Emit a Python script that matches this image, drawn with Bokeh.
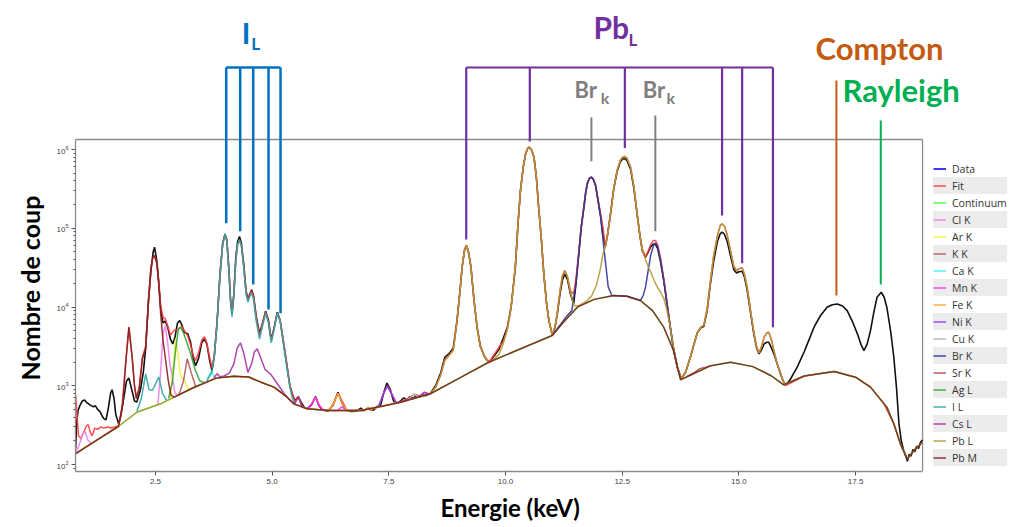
from bokeh.plotting import figure
from bokeh.models import (Range1d, FixedTicker, LogTickFormatter, NumeralTickFormatter,
                          Legend, LegendItem, Label, Title)
from bokeh.embed import file_html
from bokeh.resources import INLINE

NAN = float("nan")

# ---------------- data (energy keV, counts) ----------------
DATA = [(0.79,160),(0.81,330),(0.84,480),(0.88,560),(0.93,640),(0.98,660),(1.03,610),(1.08,580),
        (1.12,560),(1.17,540),(1.21,560),(1.26,500),(1.31,470),(1.36,410),(1.40,380),(1.44,370),
        (1.49,520),(1.54,820),(1.57,890),(1.61,700),(1.65,430),(1.71,330),(1.76,420),(1.82,700),
        (1.88,1150),(1.93,1250),(1.99,900),(2.05,640),(2.10,620),(2.18,900),(2.24,1500),(2.29,3000),
        (2.35,12000),(2.40,28000),(2.45,50000),(2.48,57400),(2.53,38000),(2.57,20000),(2.61,9800),
        (2.66,6300),(2.71,6600),(2.76,5600),(2.82,3900),(2.87,3400),(2.92,4200),(2.97,6200),
        (3.02,6740),(3.07,5800),(3.12,4700),(3.19,4600),(3.25,3600),(3.31,2200),(3.36,1800),
        (3.42,2200),(3.49,3500),(3.55,3940),(3.60,3400),(3.66,2100),(3.71,1560),(3.76,2400),
        (3.82,6500),(3.88,25000),(3.94,65000),(3.99,84900),(4.03,70000),(4.07,32000),(4.11,12000),
        (4.14,8200),(4.18,15000),(4.22,42000),(4.26,68000),(4.30,78500),(4.34,65000),(4.39,35000),
        (4.44,16000),(4.48,12700),(4.52,14500),(4.56,16500),(4.60,14000),(4.66,7500),(4.73,4570),
        (4.80,6500),(4.86,8860),(4.92,6800),(4.98,3830),(5.04,5400),(5.11,8590),(5.17,6800),
        (5.24,3600),(5.32,1720),(5.38,1000),(5.43,790),(5.49,640),(5.56,730),(5.62,620),(5.69,530),
        (5.76,510),(5.85,580),(5.93,730),(6.00,560),(6.08,490),(6.20,480),(6.30,560),(6.41,828),
        (6.50,600),(6.58,490),(6.70,470),(6.80,475),(6.90,520),(6.96,480),(7.03,510),(7.10,500),
        (7.17,490),(7.25,545),(7.32,560),(7.40,850),(7.46,1080),(7.53,900),(7.60,640),(7.67,600),
        (7.75,640),(7.82,700),(7.88,660),(7.95,730),(8.02,690),(8.10,760),(8.16,720),(8.24,760),
        (8.30,750),(8.39,800),(8.50,1000),(8.61,1450),(8.70,2300),(8.80,2600),(8.88,3000),
        (8.96,6730),(9.02,15000),(9.07,32000),(9.12,52000),(9.16,60300),(9.20,52000),(9.26,32000),
        (9.32,13000),(9.39,5540),(9.46,3200),(9.54,2400),(9.60,2100),(9.66,2000),(9.76,2400),
        (9.86,2900),(9.95,4000),(10.04,5540),(10.12,10000),(10.21,32000),(10.27,120000),
        (10.32,301000),(10.38,600000),(10.43,880000),(10.47,1020000),(10.51,1070000),
        (10.56,980000),(10.61,800000),(10.66,450000),(10.71,185000),(10.77,70000),(10.82,26300),
        (10.88,11000),(10.93,6730),(11.00,4420),(11.06,5500),(11.11,8170),(11.17,15000),
        (11.22,22000),(11.27,26300),(11.33,22000),(11.39,14700),(11.46,10900),(11.51,20000),
        (11.57,47200),(11.62,100000),(11.68,185000),(11.72,290000),(11.76,384000),(11.80,430000),
        (11.84,445000),(11.88,420000),(11.93,349000),(11.98,230000),(12.04,138000),(12.09,80000),
        (12.14,60000),(12.19,85000),(12.25,152000),(12.32,320000),(12.39,520000),(12.46,700000),
        (12.51,760000),(12.55,770000),(12.60,730000),(12.68,560000),(12.75,320000),(12.82,150000),
        (12.88,80000),(12.93,52000),(13.00,43000),(13.06,50000),(13.11,58000),(13.17,63000),
        (13.21,63000),(13.26,55000),(13.32,38000),(13.39,22000),(13.46,11000),(13.53,5540),
        (13.60,3000),(13.68,1720),(13.77,1222),(13.86,1500),(13.96,2300),(14.04,3400),(14.11,4700),
        (14.18,5400),(14.25,5700),(14.32,9000),(14.39,19700),(14.46,38000),(14.54,68000),
        (14.60,85000),(14.64,89400),(14.69,84000),(14.75,68000),(14.82,45000),(14.89,30000),
        (14.95,27000),(15.00,28000),(15.07,28500),(15.12,24000),(15.18,16000),(15.25,8500),
        (15.32,4560),(15.38,3000),(15.43,2540),(15.49,2900),(15.54,3400),(15.60,3570),(15.64,3570),
        (15.70,3000),(15.75,2540),(15.82,1900),(15.89,1416),(15.95,1150),(16.00,1007),(16.10,1200),
        (16.25,1720),(16.40,2700),(16.50,3800),(16.61,5540),(16.75,7800),(16.89,9930),(17.00,10700),
        (17.11,10940),(17.22,10300),(17.32,9000),(17.43,6600),(17.54,4560),(17.62,3300),(17.68,2800),
        (17.75,3400),(17.82,5020),(17.89,8500),(17.96,13300),(18.05,15400),(18.11,13500),
        (18.17,9930),(18.25,5000),(18.32,2300),(18.38,900),(18.43,328),(18.48,200),(18.53,151),
        (18.58,125),(18.61,110),(18.65,135),(18.69,128),(18.73,155),(18.77,145),(18.81,170),
        (18.85,160),(18.89,190),(18.93,205)]

FIT = [(0.79,750),(0.82,420),(0.85,230),(0.90,215),(0.96,255),(1.02,310),(1.06,320),(1.10,260),
       (1.14,230),(1.20,290),(1.26,280),(1.33,300),(1.40,290),(1.47,300),(1.55,290),(1.63,300),
       (1.71,310),(1.78,520),(1.86,1900),(1.93,5540),(2.00,2300),(2.05,1000),(2.09,720),(2.15,950),
       (2.22,2300),(2.29,3200),(2.35,12000),(2.40,30000),(2.44,42000),(2.48,45000),(2.53,36000),
       (2.57,21000),(2.61,10500),(2.66,7500),(2.71,7080),(2.76,5800),(2.82,4400),(2.87,4800),
       (2.92,5200),(2.97,5100),(3.02,5500),(3.07,5600),(3.12,5000),(3.19,4300),(3.25,3300),
       (3.31,2400),(3.36,2100),(3.42,2600),(3.49,3800),(3.55,4200),(3.60,3500),(3.66,2300),
       (3.71,1700),(3.76,2400),(3.82,6400),(3.88,24500),(3.94,64000),(3.99,83000),(4.03,69000),
       (4.07,31000),(4.11,11500),(4.14,8400),(4.18,14500),(4.22,39000),(4.26,63000),(4.30,70000),
       (4.34,60000),(4.39,33000),(4.44,15500),(4.48,12300),(4.52,14200),(4.56,16000),(4.60,13500),
       (4.66,7200),(4.73,4300),(4.80,6300),(4.86,8600),(4.92,6600),(4.98,3700),(5.04,5300),
       (5.11,8300),(5.17,6700),(5.24,3800),(5.32,1800),(5.38,1000),(5.43,800),(5.49,620),
       (5.56,730),(5.63,570),(5.70,520),(5.76,515),(5.85,590),(5.93,720),(6.01,560),(6.10,490),
       (6.22,490),(6.32,600),(6.41,800),(6.50,640),(6.60,490),(6.90,485),(6.98,490),(7.06,530),
       (7.14,500),(7.28,545),(7.38,790),(7.47,1000),(7.55,820),(7.66,610),(7.80,640),(7.92,690),
       (8.04,780),(8.14,730),(8.26,830),(8.33,800),(8.39,800),(8.50,960),(8.61,1380),(8.70,2150),
       (8.80,2500),(8.88,2850),(8.96,6500),(9.02,15000),(9.07,32000),(9.12,52000),(9.16,60300),
       (9.20,52000),(9.26,32000),(9.32,13000),(9.39,5540),(9.46,3150),(9.54,2420),(9.60,2150),
       (9.66,2050),(9.76,2500),(9.86,3100),(9.95,3600),(10.04,5300),(10.12,10000),(10.21,32000),
       (10.27,120000),(10.32,301000),(10.38,600000),(10.43,880000),(10.47,1020000),
       (10.51,1070000),(10.56,980000),(10.61,800000),(10.66,450000),(10.71,185000),(10.77,70000),
       (10.82,26300),(10.88,11000),(10.93,6730),(11.00,4420),(11.06,5600),(11.11,8500),
       (11.17,16500),(11.22,25000),(11.27,29000),(11.33,24000),(11.39,16000),(11.46,14700),
       (11.51,23000),(11.57,50000),(11.62,102000),(11.68,188000),(11.72,292000),(11.76,386000),
       (11.80,432000),(11.84,447000),(11.88,422000),(11.93,352000),(11.98,236000),(12.04,150000),
       (12.09,100000),(12.14,58500),(12.19,87000),(12.25,154000),(12.32,322000),(12.39,542000),
       (12.46,731000),(12.51,801000),(12.55,815000),(12.60,781000),(12.68,597000),(12.75,342000),
       (12.82,155000),(12.88,82000),(12.93,55000),(13.00,42900),(13.06,52000),(13.11,62000),
       (13.17,70000),(13.21,70000),(13.26,62000),(13.32,42000),(13.39,23000),(13.46,11500),
       (13.53,5600),(13.60,3000),(13.68,1720),(13.77,1222),(13.86,1500),(13.96,2300),(14.04,3400),
       (14.11,4700),(14.18,5500),(14.25,5900),(14.32,9500),(14.39,21000),(14.46,45000),
       (14.54,80000),(14.60,108000),(14.64,114000),(14.69,106000),(14.75,82000),(14.82,52000),
       (14.89,33000),(14.95,29000),(15.00,30500),(15.07,31500),(15.12,26000),(15.18,17500),
       (15.25,9000),(15.32,4800),(15.38,3100),(15.43,2600),(15.49,3200),(15.54,4140),(15.60,4700),
       (15.64,4790),(15.70,3800),(15.75,2800),(15.82,1900),(15.89,1450),(15.95,1150),(16.00,1007),
       (16.40,1330),(17.04,1518),(17.50,1285),(17.82,960),(18.10,600),(18.32,329),(18.50,160),
       (18.61,118),(18.75,150),(18.93,192)]

CONTINUUM = [(0.79,137),(1.20,196),(1.71,306),(2.10,461),(2.61,590),(2.90,716),(3.32,950),
             (3.80,1250),(4.17,1322),(4.50,1290),(4.76,1110),(5.04,960),(5.32,716),(5.46,590),
             (5.75,509),(6.20,485),(6.90,485),(7.30,540),(7.75,618),(8.39,791),(9.00,1240),
             (9.64,1990),(10.30,2910),(11.00,4345),(11.25,6500),(11.54,9950),(11.90,12500),
             (12.32,14000),(12.60,13700),(12.89,12100),(13.15,9000),(13.39,5540),(13.60,2800),
             (13.75,1190),(14.00,1400),(14.40,1800),(14.82,1990),(15.30,1750),(15.70,1330),
             (15.96,1028),(16.40,1330),(17.04,1518),(17.50,1285),(17.82,960),(18.17,535),
             (18.32,329),(18.46,183),(18.61,118),(18.75,150),(18.93,192)]

CL_K = [(0.79,137),(0.86,175),(0.95,250),(0.99,262),(1.05,205),(1.12,185),(1.20,NAN),
        (2.55,570),(2.61,1500),(2.66,4500),(2.71,5800),(2.76,3500),(2.81,1900),(2.86,1300),
        (2.92,800),(3.00,760)]
AR_K = [(2.82,700),(2.88,1800),(2.93,3940),(2.98,2600),(3.03,1400),(3.07,1230),(3.13,1150),
        (3.20,900),(3.28,930)]
K_K = [(3.00,760),(3.10,1150),(3.18,2200),(3.26,1500),(3.36,980)]
CA_K = [(3.60,1180),(3.69,1500),(3.78,1260)]
MN_K = [(5.76,509),(5.85,590),(5.93,720),(6.01,560),(6.10,490),(6.40,485),(6.49,540),(6.58,490)]
FE_K = [(6.22,485),(6.32,600),(6.41,800),(6.50,600),(6.60,485),(6.98,490),(7.06,530),(7.14,495)]
NI_K = [(7.28,540),(7.38,780),(7.47,980),(7.55,800),(7.66,600),(8.18,740),(8.26,820),(8.33,790),
        (8.40,791)]
CU_K = [(7.92,680),(8.04,780),(8.14,725)]
BR_K = [(11.00,4345),(11.30,7500),(11.42,9000),(11.51,20000),(11.57,47200),(11.62,100000),
        (11.68,185000),(11.72,290000),(11.76,384000),(11.80,430000),(11.84,445000),
        (11.88,420000),(11.93,349000),(11.98,230000),(12.04,138000),(12.09,70000),(12.14,38000),
        (12.20,18000),(12.28,14000),(12.60,13700),(12.89,12100),(12.95,14000),(13.00,18000),
        (13.06,30000),(13.11,45000),(13.17,60000),(13.21,65000),(13.26,58000),(13.32,40000),
        (13.39,22000),(13.46,11000),(13.53,5540),(13.60,2800),(13.68,1720),(13.77,1222)]
SR_K = [(13.90,1320),(14.05,1480),(14.16,1650),(14.26,1700),(14.40,1800)]
AG_L = [(2.78,690),(2.86,1100),(2.93,2800),(2.99,5200),(3.04,5500),(3.10,4700),(3.16,3700),
        (3.25,2570),(3.35,1600),(3.45,1150),(3.55,1100)]
I_L = [(2.10,470),(2.20,700),(2.29,1420),(2.36,900),(2.43,870),(2.50,1050),(2.57,1285),
       (2.65,800),(2.74,650),(2.80,NAN),
       (3.60,1150),(3.71,1500),(3.76,2300),(3.82,6300),(3.88,24000),(3.94,63000),(3.99,84000),
       (4.03,68000),(4.07,30000),(4.11,11000),(4.14,7500),(4.18,14000),(4.22,38000),(4.26,62000),
       (4.30,72000),(4.34,60000),(4.39,32000),(4.44,14500),(4.48,11500),(4.52,13500),(4.56,15000),
       (4.60,12500),(4.66,6500),(4.73,3900),(4.80,6000),(4.86,8300),(4.92,6200),(4.98,3500),
       (5.04,5100),(5.11,8400),(5.17,6600),(5.24,3500),(5.32,1650),(5.38,950),(5.43,700),
       (5.50,580)]
CS_L = [(3.75,1260),(3.82,1420),(3.88,1300),(3.97,1330),(4.08,1450),(4.18,1900),(4.25,3000),
        (4.32,3510),(4.39,2600),(4.48,1480),(4.56,1900),(4.62,2700),(4.68,2940),(4.75,2300),
        (4.85,1600),(4.96,1420),(5.05,1200),(5.14,1000),(5.24,820),(5.32,716),(5.40,640),
        (5.49,600),(5.56,720),(5.63,560),(5.70,520)]
PB_L = [(0.79,137),(1.20,196),(1.71,306),(2.10,461),(2.61,590),(2.90,716),(3.32,950),(3.80,1250),
        (4.17,1322),(4.50,1290),(4.76,1110),(5.04,960),(5.32,716),(5.46,590),(5.75,509),
        (6.20,485),(6.90,485),(7.30,540),(7.75,618),
        (8.39,791),(8.50,950),(8.61,1350),(8.70,2100),(8.80,2450),(8.88,2800),(8.96,6500),
        (9.02,15000),(9.07,32000),(9.12,52000),(9.16,60300),(9.20,52000),(9.26,32000),
        (9.32,13000),(9.39,5540),(9.46,3100),(9.54,2400),(9.60,2100),(9.66,1990),(9.76,2200),
        (9.86,2500),(9.95,3400),(10.04,5200),(10.12,10000),(10.21,32000),(10.27,120000),
        (10.32,301000),(10.38,600000),(10.43,880000),(10.47,1020000),(10.51,1070000),
        (10.56,980000),(10.61,800000),(10.66,450000),(10.71,185000),(10.77,70000),(10.82,26300),
        (10.88,11000),(10.93,6730),(11.00,4420),(11.06,5600),(11.11,8500),(11.17,16500),
        (11.22,25000),(11.27,29000),(11.33,24000),(11.39,15500),(11.46,10500),(11.55,10300),
        (11.65,11000),(11.75,12000),(11.85,14000),(11.95,19000),(12.04,32000),(12.09,48000),
        (12.14,58000),(12.19,85000),(12.25,152000),(12.32,320000),(12.39,540000),(12.46,730000),
        (12.51,800000),(12.55,814000),(12.60,780000),(12.68,596000),(12.75,340000),(12.82,152000),
        (12.88,80000),(12.93,52000),(13.00,40000),(13.06,32000),(13.11,28000),(13.18,22000),
        (13.25,18000),(13.32,15500),(13.39,13000),(13.46,9000),(13.53,5540),(13.60,3000),
        (13.68,1720),(13.77,1222),(13.86,1500),(13.96,2300),(14.04,3400),(14.11,4700),(14.18,5500),
        (14.25,5900),(14.32,9500),(14.39,21000),(14.46,45000),(14.54,80000),(14.60,108000),
        (14.64,114000),(14.69,106000),(14.75,82000),(14.82,52000),(14.89,33000),(14.95,29000),
        (15.00,30500),(15.07,31500),(15.12,26000),(15.18,17500),(15.25,9000),(15.32,4800),
        (15.38,3100),(15.43,2600),(15.49,3200),(15.54,4140),(15.60,4700),(15.64,4790),(15.70,3800),
        (15.75,2800),(15.82,1900),(15.89,1450),(15.95,1150),(16.00,1007)]
PB_M = [(0.79,137),(1.20,196),(1.71,306),(1.80,600),(1.86,1900),(1.93,5540),(2.00,2300),
        (2.05,1000),(2.09,682),(2.15,900),(2.22,2200),(2.29,3000),(2.35,12000),(2.40,30000),
        (2.44,42000),(2.48,45000),(2.53,35600),(2.57,20000),(2.61,8300),(2.66,3800),(2.71,2300),
        (2.77,1200),(2.83,760),(2.90,716),(3.32,950),(3.80,1250),(4.17,1322),(4.50,1290),
        (4.76,1110),(5.04,960),(5.32,716),(5.46,590),(5.75,509),(6.20,485),(6.90,485),(7.30,540),
        (7.75,618),(8.39,791),(9.00,1240),(9.64,1990),(10.30,2910),(11.00,4345),(11.25,6500),
        (11.54,9950),(11.90,12500),(12.32,14000),(12.60,13700),(12.89,12100),(13.15,9000),
        (13.39,5540),(13.60,2800),(13.75,1190),(14.00,1400),(14.40,1800),(14.82,1990),
        (15.30,1750),(15.70,1330),(15.96,1028),(16.40,1330),(17.04,1518),(17.50,1285),
        (17.82,960),(18.17,535),(18.32,329),(18.46,183),(18.61,118),(18.75,150),(18.93,192)]

LEGEND_NAMES = ["Data", "Fit", "Continuum", "Cl K", "Ar K", "K K", "Ca K", "Mn K", "Fe K", "Ni K",
                "Cu K", "Br K", "Sr K", "Ag L", "I L", "Cs L", "Pb L", "Pb M"]
COMPONENTS = [FIT, CONTINUUM, CL_K, AR_K, K_K, CA_K, MN_K, FE_K, NI_K, CU_K, BR_K, SR_K,
              AG_L, I_L, CS_L, PB_L, PB_M]
COLORS = ["#3a3aff", "#ff3b3b", "#3dff3d", "#f080f0", "#f2f23a", "#b35959", "#40f0f0",
          "#ff30ff", "#ffa333", "#8a3dff", "#b3b3b3", "#333399", "#b34d4d", "#33a633",
          "#33a6a6", "#a633a6", "#b09a35", "#862020"]

XTICKS = [2.5, 5.0, 7.5, 10.0, 12.5, 15.0, 17.5]
YTICKS = [1e2, 1e3, 1e4, 1e5, 1e6]

# annotation markers (energy of line, bottom end in counts)
IL_E = [4.015, 4.315, 4.594, 4.922, 5.179]
IL_END = [116000, 91800, 19300, 9290, 8340]
PB_E = [9.158, 10.52, 12.557, 14.64, 15.07, 15.73]
PB_END = [71900, 1260000, 1047000, 145000, 36000, 5530]
BR_E = [11.84, 13.21]
BR_TOP = [2550000, 2700000]
BR_END = [710000, 91800]
COMPTON_E, COMPTON_TOP, COMPTON_END = 17.09, 7.5e6, 14000
RAYLEIGH_E, RAYLEIGH_TOP, RAYLEIGH_END = 18.04, 2.33e6, 19300
BRACKET_Y = 1.10e7

# ---------------- layout ----------------
X0, X1, XEND = 0.786, 18.936, 20.82
YMIN, YFRAME, YTOP = 81.5, 1.34e6, 7.8e7

p = figure(width=1010, height=527, x_range=Range1d(X0, XEND), y_range=Range1d(YMIN, YTOP),
           y_axis_type="log", output_backend="svg", toolbar_location=None, title=None,
           min_border_left=75, min_border_right=0, min_border_top=0, min_border_bottom=56)
p.outline_line_color = None
p.xgrid.grid_line_color = None
p.ygrid.grid_line_color = None
p.background_fill_color = "white"
p.border_fill_color = "white"

ax_col = "#8c8c8c"
p.xaxis.bounds = (X0, X1)
p.yaxis.bounds = (YMIN, YFRAME)
p.xaxis.ticker = FixedTicker(ticks=XTICKS)
p.xaxis.formatter = NumeralTickFormatter(format="0.0")
minors = [k * 10 ** n for n in range(1, 6) for k in range(2, 10) if YMIN <= k * 10 ** n <= YFRAME]
p.yaxis.ticker = FixedTicker(ticks=YTICKS, minor_ticks=minors)
p.yaxis.formatter = LogTickFormatter()
for ax in (p.xaxis[0], p.yaxis[0]):
    ax.axis_line_color = ax_col
    ax.axis_line_width = 1.3
    ax.major_tick_line_color = "#555555"
    ax.minor_tick_line_color = "#555555"
    ax.major_tick_out = 4
    ax.major_tick_in = 0
    ax.minor_tick_out = 2
    ax.minor_tick_in = 0
    ax.major_label_text_font_size = "8px"
    ax.major_label_text_color = "#444444"
    ax.major_label_standoff = 3
p.xaxis.minor_tick_line_color = None

# frame top / right edges
p.segment(x0=[X0, X1], y0=[YFRAME, YMIN], x1=[X1, X1], y1=[YFRAME, YFRAME],
          line_color=ax_col, line_width=1.3)

# ---------------- spectra ----------------
def xy(series):
    return [a for a, b in series], [b for a, b in series]

dx, dy = xy(DATA)
p.line(dx, dy, line_color="#111111", line_width=1.6)
swatch = p.line([NAN], [NAN], line_color=COLORS[0], line_width=2)
legend_items = [LegendItem(label=LEGEND_NAMES[0], renderers=[swatch])]
for name, series, col in zip(LEGEND_NAMES[1:], COMPONENTS, COLORS[1:]):
    sx, sy = xy(series)
    r = p.line(sx, sy, line_color=col, line_width=1.5, line_alpha=0.9)
    legend_items.append(LegendItem(label=name, renderers=[r]))

legend = Legend(items=legend_items, location=(858, 5), label_text_font="Open Sans",
                label_text_font_size="10.5px", label_text_color="#333333",
                glyph_width=13, glyph_height=17, label_height=17, label_standoff=6,
                spacing=0, padding=0, margin=0, border_line_color=None,
                background_fill_alpha=0)
legend.item_background_policy = "odd"
legend.item_background_fill_color = "#ececec"
legend.item_background_fill_alpha = 1.0
p.add_layout(legend)

# ---------------- annotations ----------------
IL_C, PB_C, BR_C = "#0070C0", "#7030A0", "#7F7F7F"
p.segment(x0=IL_E, y0=[BRACKET_Y] * len(IL_E), x1=IL_E, y1=IL_END, line_color=IL_C, line_width=2.5)
p.segment(x0=[IL_E[0]], y0=[BRACKET_Y], x1=[IL_E[-1]], y1=[BRACKET_Y], line_color=IL_C, line_width=2.5)
p.segment(x0=PB_E, y0=[BRACKET_Y] * len(PB_E), x1=PB_E, y1=PB_END, line_color=PB_C, line_width=2.2)
p.segment(x0=[PB_E[0]], y0=[BRACKET_Y], x1=[PB_E[-1]], y1=[BRACKET_Y], line_color=PB_C, line_width=2.2)
p.segment(x0=BR_E, y0=BR_TOP, x1=BR_E, y1=BR_END, line_color=BR_C, line_width=2)
p.segment(x0=[COMPTON_E], y0=[COMPTON_TOP], x1=[COMPTON_E], y1=[COMPTON_END],
          line_color="#C55A11", line_width=2)
p.segment(x0=[RAYLEIGH_E], y0=[RAYLEIGH_TOP], x1=[RAYLEIGH_E], y1=[RAYLEIGH_END],
          line_color="#00B050", line_width=2)

def lab(x, y, text, color, size):
    p.add_layout(Label(x=x, y=y, text=text, text_color=color, text_font="Lato",
                       text_font_style="bold", text_font_size=size,
                       text_align="left", text_baseline="alphabetic"))

lab(4.35, 10 ** 7.486, "I", IL_C, "29px")
lab(4.55, 10 ** 7.346, "L", IL_C, "17px")
lab(11.886, 10 ** 7.550, "Pb", PB_C, "30px")
lab(12.636, 10 ** 7.397, "L", PB_C, "17px")
lab(11.48, 10 ** 6.762, "Br", BR_C, "22px")
lab(12.04, 10 ** 6.660, "k", BR_C, "16px")
lab(12.94, 10 ** 6.762, "Br", BR_C, "22px")
lab(13.45, 10 ** 6.660, "k", BR_C, "16px")
lab(16.642, 10 ** 7.285, "Compton", "#C55A11", "31px")
lab(17.22, 10 ** 6.760, "Rayleigh", "#00B050", "31px")

# axis titles
p.add_layout(Title(text="Energie (keV)", align="left", offset=365, text_font="Lato",
                   text_font_size="24px", text_font_style="bold", text_color="black",
                   standoff=8), "below")
p.add_layout(Title(text="Nombre de coup", align="left", offset=91, text_font="Lato",
                   text_font_size="25px", text_font_style="bold", text_color="black",
                   standoff=18), "left")

open("out.html", "w").write(file_html(p, INLINE))
